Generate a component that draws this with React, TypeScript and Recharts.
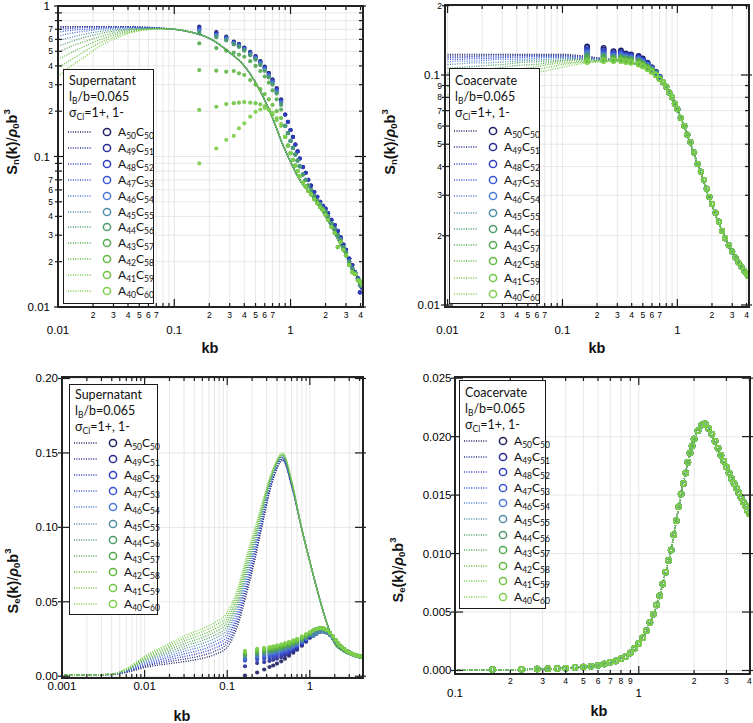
import React from "react";
import { ComposedChart, Line, Scatter, XAxis, YAxis, CartesianGrid } from "recharts";

// series: A50C50 ... A40C60
const seriesA = ["50", "49", "48", "47", "46", "45", "44", "43", "42", "41", "40"];
const seriesC = ["50", "51", "52", "53", "54", "55", "56", "57", "58", "59", "60"];
const seriesColors = [
  "#1d2060", "#262c92", "#2f3fbf", "#3856d2", "#4a79d6", "#4f8ca6",
  "#4b9a68", "#52a84c", "#62b843", "#6fc443", "#7dcf4b",
];

// ---- tick values ----
const ticksLog01to4 = [0.01, 0.02, 0.03, 0.04, 0.05, 0.06, 0.07, 0.08, 0.09, 0.1, 0.2, 0.3, 0.4, 0.5, 0.6, 0.7, 0.8, 0.9, 1, 2, 3, 4];
const ticksLog001to1 = [0.01, 0.02, 0.03, 0.04, 0.05, 0.06, 0.07, 0.08, 0.09, 0.1, 0.2, 0.3, 0.4, 0.5, 0.6, 0.7, 0.8, 0.9, 1];
const ticksLog001to02 = [0.01, 0.02, 0.03, 0.04, 0.05, 0.06, 0.07, 0.08, 0.09, 0.1, 0.2];
const ticksLog0001to4 = [0.001, 0.002, 0.003, 0.004, 0.005, 0.006, 0.007, 0.008, 0.009, 0.01, 0.02, 0.03, 0.04, 0.05, 0.06, 0.07, 0.08, 0.09, 0.1, 0.2, 0.3, 0.4, 0.5, 0.6, 0.7, 0.8, 0.9, 1, 2, 3, 4];
const ticksLog01to4b = [0.1, 0.2, 0.3, 0.4, 0.5, 0.6, 0.7, 0.8, 0.9, 1, 2, 3, 4];
const ticksSeSup = [0, 0.05, 0.1, 0.15, 0.2];
const ticksSeCoa = [0, 0.005, 0.01, 0.015, 0.02, 0.025];

// ---- panel 1: S_n supernatant ----
const snSupK = [0.01, 0.013, 0.017, 0.022, 0.03, 0.04, 0.055, 0.075, 0.1, 0.15, 0.2, 0.3, 0.4, 0.5, 0.7, 0.85, 1, 1.2, 1.5, 1.75, 2, 3, 4];
const snSupLow = [
  [0.73, 0.73, 0.73, 0.73, 0.73, 0.73, 0.725, 0.715, 0.7],
  [0.72, 0.725, 0.728, 0.73, 0.73, 0.728, 0.722, 0.713, 0.7],
  [0.7, 0.71, 0.72, 0.725, 0.727, 0.726, 0.72, 0.712, 0.7],
  [0.67, 0.69, 0.7, 0.71, 0.72, 0.722, 0.718, 0.711, 0.7],
  [0.63, 0.66, 0.68, 0.7, 0.71, 0.716, 0.715, 0.71, 0.7],
  [0.59, 0.62, 0.65, 0.675, 0.695, 0.707, 0.712, 0.709, 0.7],
  [0.54, 0.58, 0.62, 0.65, 0.68, 0.698, 0.708, 0.708, 0.7],
  [0.49, 0.54, 0.58, 0.62, 0.66, 0.688, 0.704, 0.707, 0.7],
  [0.44, 0.49, 0.54, 0.59, 0.64, 0.676, 0.7, 0.706, 0.7],
  [0.39, 0.44, 0.5, 0.56, 0.62, 0.665, 0.695, 0.705, 0.7],
  [0.34, 0.4, 0.46, 0.53, 0.6, 0.655, 0.69, 0.704, 0.7],
];
const snSupTail = [0.66, 0.61, 0.49, 0.4, 0.31, 0.18, 0.122, 0.092, 0.07, 0.056, 0.047, 0.04, 0.022, 0.0145];

const snSupSimKLow = [0.164, 0.23, 0.28, 0.325, 0.36, 0.4, 0.45, 0.5, 0.55, 0.6, 0.65, 0.7, 0.76, 0.83];
const snSupSimLow = [
  [0.73, 0.67, 0.625, 0.58, 0.56, 0.53, 0.495, 0.465, 0.43, 0.395, 0.36, 0.325, 0.285, 0.24],
  [0.72, 0.665, 0.62, 0.578, 0.557, 0.527, 0.492, 0.462, 0.428, 0.392, 0.357, 0.322, 0.282, 0.238],
  [0.71, 0.655, 0.615, 0.572, 0.553, 0.522, 0.488, 0.458, 0.424, 0.388, 0.353, 0.318, 0.278, 0.235],
  [0.7, 0.645, 0.61, 0.568, 0.548, 0.518, 0.484, 0.453, 0.42, 0.384, 0.349, 0.314, 0.274, 0.232],
  [0.69, 0.64, 0.605, 0.565, 0.545, 0.515, 0.48, 0.45, 0.416, 0.38, 0.345, 0.31, 0.27, 0.228],
  [0.675, 0.63, 0.6, 0.56, 0.54, 0.51, 0.475, 0.445, 0.41, 0.375, 0.34, 0.305, 0.265, 0.224],
  [0.66, 0.62, 0.59, 0.555, 0.535, 0.505, 0.47, 0.44, 0.405, 0.37, 0.335, 0.3, 0.262, 0.22],
  [0.565, 0.525, 0.505, 0.49, 0.475, 0.46, 0.43, 0.4, 0.37, 0.34, 0.31, 0.275, 0.24, 0.205],
  [0.375, 0.372, 0.366, 0.37, 0.357, 0.348, 0.322, 0.3, 0.28, 0.26, 0.24, 0.22, 0.2, 0.18],
  [0.204, 0.214, 0.223, 0.226, 0.228, 0.23, 0.228, 0.226, 0.222, 0.215, 0.205, 0.19, 0.175, 0.16],
  [0.09, 0.113, 0.129, 0.137, 0.154, 0.166, 0.184, 0.198, 0.205, 0.21, 0.205, 0.195, 0.18, 0.165],
];
const snSupSimKTail = [0.9, 0.95, 1.0, 1.05, 1.1, 1.15, 1.2, 1.28, 1.35, 1.42, 1.5, 1.6, 1.7, 1.8, 1.9, 2.0, 2.1, 2.25, 2.4, 2.55, 2.7, 2.85, 3.0, 3.2, 3.4, 3.6, 3.8, 3.95, 4.1];
const snSupSimTailBlue = [0.19, 0.17, 0.15, 0.135, 0.12, 0.108, 0.097, 0.085, 0.078, 0.07, 0.064, 0.058, 0.054, 0.05, 0.047, 0.045, 0.042, 0.038, 0.035, 0.032, 0.029, 0.026, 0.024, 0.021, 0.019, 0.017, 0.0155, 0.0125, 0.0135];
const snSupSimTailMid = [0.16, 0.143, 0.127, 0.114, 0.103, 0.094, 0.086, 0.076, 0.07, 0.064, 0.06, 0.055, 0.051, 0.048, 0.045, 0.043, 0.04, 0.036, 0.033, 0.03, 0.028, 0.025, 0.023, 0.02, 0.018, 0.0168, 0.0152, 0.014, 0.0138];
const snSupSimTailGreen = [0.135, 0.118, 0.105, 0.095, 0.087, 0.08, 0.074, 0.067, 0.063, 0.059, 0.056, 0.052, 0.049, 0.046, 0.044, 0.041, 0.038, 0.034, 0.031, 0.025, 0.027, 0.024, 0.022, 0.019, 0.017, 0.0165, 0.015, 0.0148, 0.0142];
const snSupTailGroup = [0, 0, 0, 1, 1, 1, 1, 2, 2, 2, 2];

// ---- panel 2: S_n coacervate ----
const snCoaK = [0.01, 0.013, 0.017, 0.022, 0.03, 0.04, 0.055, 0.075, 0.1, 0.13, 0.17, 0.22, 0.3, 0.4, 0.5, 0.6, 0.7, 0.85, 1, 1.25, 1.5, 2, 2.5, 3, 4];
const snCoaLow = [
  [0.123, 0.123, 0.123, 0.123, 0.123, 0.123, 0.123, 0.123, 0.123, 0.122, 0.12, 0.118, 0.116],
  [0.121, 0.121, 0.121, 0.122, 0.122, 0.122, 0.122, 0.122, 0.122, 0.121, 0.12, 0.118, 0.116],
  [0.119, 0.119, 0.12, 0.12, 0.12, 0.121, 0.121, 0.121, 0.121, 0.12, 0.119, 0.117, 0.116],
  [0.117, 0.117, 0.118, 0.118, 0.119, 0.119, 0.12, 0.12, 0.12, 0.119, 0.118, 0.117, 0.116],
  [0.114, 0.115, 0.115, 0.116, 0.117, 0.117, 0.118, 0.119, 0.119, 0.118, 0.118, 0.117, 0.116],
  [0.111, 0.112, 0.113, 0.113, 0.114, 0.115, 0.116, 0.117, 0.118, 0.118, 0.117, 0.116, 0.116],
  [0.107, 0.108, 0.109, 0.11, 0.111, 0.113, 0.114, 0.115, 0.116, 0.117, 0.117, 0.116, 0.116],
  [0.102, 0.103, 0.105, 0.106, 0.108, 0.11, 0.111, 0.113, 0.115, 0.116, 0.116, 0.116, 0.116],
  [0.096, 0.098, 0.1, 0.102, 0.104, 0.106, 0.108, 0.111, 0.113, 0.114, 0.115, 0.115, 0.115],
  [0.089, 0.091, 0.094, 0.097, 0.1, 0.102, 0.105, 0.108, 0.111, 0.113, 0.114, 0.115, 0.115],
  [0.082, 0.085, 0.088, 0.091, 0.094, 0.098, 0.101, 0.105, 0.108, 0.111, 0.113, 0.114, 0.115],
];
const snCoaTail = [0.113, 0.109, 0.104, 0.097, 0.084, 0.071, 0.053, 0.041, 0.027, 0.0205, 0.017, 0.0137];

const snCoaSimKLow = [0.164, 0.228, 0.278, 0.323, 0.357, 0.395, 0.46, 0.5, 0.55, 0.6, 0.65, 0.7];
const snCoaSimLow = [
  [0.133, 0.131, 0.127, 0.128, 0.124, 0.123, 0.121, 0.118, 0.113, 0.108, 0.103, 0.098],
  [0.131, 0.129, 0.126, 0.126, 0.123, 0.122, 0.12, 0.117, 0.112, 0.108, 0.103, 0.098],
  [0.129, 0.127, 0.124, 0.125, 0.122, 0.121, 0.119, 0.116, 0.112, 0.107, 0.102, 0.098],
  [0.127, 0.125, 0.123, 0.123, 0.121, 0.12, 0.118, 0.115, 0.111, 0.107, 0.102, 0.097],
  [0.125, 0.123, 0.121, 0.122, 0.12, 0.119, 0.117, 0.114, 0.11, 0.106, 0.102, 0.097],
  [0.123, 0.122, 0.12, 0.12, 0.119, 0.118, 0.116, 0.113, 0.109, 0.106, 0.101, 0.097],
  [0.121, 0.12, 0.119, 0.119, 0.118, 0.117, 0.115, 0.112, 0.109, 0.105, 0.101, 0.097],
  [0.119, 0.119, 0.118, 0.118, 0.117, 0.116, 0.114, 0.111, 0.108, 0.105, 0.101, 0.096],
  [0.117, 0.117, 0.117, 0.117, 0.116, 0.115, 0.113, 0.111, 0.107, 0.104, 0.1, 0.096],
  [0.116, 0.116, 0.116, 0.116, 0.115, 0.114, 0.112, 0.11, 0.107, 0.104, 0.1, 0.096],
  [0.114, 0.115, 0.115, 0.115, 0.114, 0.113, 0.111, 0.109, 0.106, 0.103, 0.1, 0.096],
];
const snCoaSimKTail = [0.75, 0.8, 0.85, 0.9, 0.95, 1.0, 1.07, 1.15, 1.22, 1.3, 1.4, 1.5, 1.6, 1.7, 1.8, 1.9, 2.0, 2.15, 2.3, 2.45, 2.6, 2.8, 3.0, 3.2, 3.4, 3.6, 3.8, 4.0, 4.1];
const snCoaSimTail = [0.093, 0.089, 0.084, 0.08, 0.075, 0.071, 0.065, 0.06, 0.055, 0.051, 0.046, 0.041, 0.038, 0.035, 0.032, 0.0295, 0.0275, 0.0252, 0.023, 0.021, 0.0195, 0.0182, 0.0171, 0.0161, 0.0153, 0.0147, 0.0141, 0.0137, 0.0134];

// ---- panel 3: S_e supernatant ----
const seSupK = [0.001, 0.002, 0.004, 0.006, 0.01, 0.02, 0.03, 0.05, 0.07, 0.1, 0.13, 0.18, 0.22, 0.26, 0.35, 0.47, 0.6, 0.79, 1.0, 1.2, 1.6, 2, 2.5, 3, 4];
const seSupLow = [
  [0.0008, 0.0008, 0.0012, 0.0025, 0.0058, 0.0085, 0.0098, 0.012, 0.0145, 0.0195, 0.032, 0.06, 0.08, 0.099, 0.13, 0.145, 0.128],
  [0.0008, 0.0008, 0.0012, 0.0028, 0.0066, 0.0099, 0.0115, 0.014, 0.0167, 0.022, 0.0345, 0.0625, 0.082, 0.1005, 0.131, 0.1455, 0.1284],
  [0.0008, 0.0008, 0.0013, 0.003, 0.0073, 0.0112, 0.0132, 0.016, 0.0188, 0.0242, 0.037, 0.065, 0.0842, 0.1022, 0.1316, 0.146, 0.1288],
  [0.0008, 0.0008, 0.0013, 0.0033, 0.0081, 0.0126, 0.015, 0.018, 0.021, 0.0266, 0.0395, 0.0675, 0.0863, 0.1038, 0.1324, 0.1465, 0.1292],
  [0.0008, 0.0008, 0.0013, 0.0035, 0.0089, 0.0139, 0.0167, 0.02, 0.0231, 0.0289, 0.042, 0.07, 0.0884, 0.1054, 0.1332, 0.147, 0.1296],
  [0.0008, 0.0008, 0.0014, 0.0038, 0.0097, 0.0153, 0.0184, 0.022, 0.0253, 0.0313, 0.0445, 0.0725, 0.0905, 0.107, 0.134, 0.1475, 0.13],
  [0.0008, 0.0008, 0.0014, 0.004, 0.0104, 0.0166, 0.0201, 0.024, 0.0274, 0.0336, 0.047, 0.075, 0.0926, 0.1086, 0.1348, 0.148, 0.1304],
  [0.0008, 0.0008, 0.0014, 0.0043, 0.0112, 0.018, 0.0218, 0.026, 0.0296, 0.036, 0.0495, 0.0775, 0.0947, 0.1102, 0.1356, 0.1485, 0.1308],
  [0.0008, 0.0008, 0.0014, 0.0045, 0.012, 0.0193, 0.0236, 0.028, 0.0317, 0.0383, 0.052, 0.08, 0.0968, 0.1118, 0.1364, 0.149, 0.1312],
  [0.0008, 0.0008, 0.0015, 0.0048, 0.0127, 0.0207, 0.0253, 0.03, 0.0339, 0.0407, 0.0545, 0.0825, 0.0989, 0.1134, 0.1372, 0.1495, 0.1316],
  [0.0008, 0.0008, 0.0015, 0.005, 0.0135, 0.022, 0.027, 0.032, 0.036, 0.043, 0.057, 0.085, 0.101, 0.115, 0.138, 0.15, 0.132],
];
const seSupTail = [0.1, 0.077, 0.06, 0.036, 0.022, 0.017, 0.0148, 0.0128];

const seSupSimKLow = [0.164, 0.23, 0.28, 0.325, 0.36, 0.4, 0.45, 0.5, 0.56, 0.63, 0.7, 0.8, 0.9, 1.0];
const seSupSimLow = [
  [0.0004, 0.0025, 0.0045, 0.0062, 0.0072, 0.0085, 0.01, 0.0118, 0.0138, 0.0158, 0.0178, 0.0205, 0.0232, 0.0258],
  [0.0067, 0.0088, 0.0095, 0.0103, 0.011, 0.0118, 0.0128, 0.014, 0.0154, 0.0168, 0.0184, 0.021, 0.0236, 0.0262],
  [0.0105, 0.0112, 0.0118, 0.0124, 0.013, 0.0136, 0.0145, 0.0155, 0.0166, 0.018, 0.0195, 0.0218, 0.0242, 0.0266],
  [0.0112, 0.0125, 0.0133, 0.014, 0.0146, 0.0152, 0.016, 0.017, 0.018, 0.0192, 0.0205, 0.0226, 0.0248, 0.027],
  [0.012, 0.0134, 0.0142, 0.015, 0.0156, 0.0162, 0.017, 0.018, 0.019, 0.0201, 0.0213, 0.0233, 0.0253, 0.0274],
  [0.013, 0.0143, 0.0151, 0.0158, 0.0164, 0.017, 0.0178, 0.0187, 0.0197, 0.0208, 0.022, 0.0239, 0.0258, 0.0277],
  [0.014, 0.0152, 0.016, 0.0167, 0.0172, 0.0178, 0.0186, 0.0195, 0.0204, 0.0215, 0.0227, 0.0245, 0.0263, 0.0281],
  [0.0148, 0.016, 0.0168, 0.0175, 0.018, 0.0186, 0.0193, 0.0202, 0.0211, 0.0222, 0.0233, 0.0251, 0.0268, 0.0285],
  [0.0156, 0.0168, 0.0176, 0.0182, 0.0187, 0.0193, 0.02, 0.0208, 0.0217, 0.0228, 0.0239, 0.0256, 0.0273, 0.0289],
  [0.0163, 0.0176, 0.0183, 0.0189, 0.0194, 0.02, 0.0207, 0.0215, 0.0224, 0.0234, 0.0245, 0.0262, 0.0278, 0.0293],
  [0.017, 0.0183, 0.019, 0.0196, 0.0201, 0.0207, 0.0214, 0.0222, 0.0231, 0.0241, 0.0251, 0.0267, 0.0283, 0.0297],
];
const seSupSimKTail = [1.1, 1.2, 1.3, 1.4, 1.5, 1.6, 1.75, 1.9, 2.05, 2.2, 2.4, 2.6, 2.8, 3.0, 3.25, 3.5, 3.75, 4.0, 4.2];
const seSupSimTailBlue = [0.0272, 0.0287, 0.0298, 0.0302, 0.0301, 0.0295, 0.028, 0.0258, 0.0236, 0.0216, 0.0196, 0.018, 0.0168, 0.0158, 0.0149, 0.0142, 0.0137, 0.0133, 0.013];
const seSupSimTailGreen = [0.0307, 0.0316, 0.0322, 0.0323, 0.0318, 0.0309, 0.0291, 0.0266, 0.0242, 0.022, 0.0199, 0.0182, 0.0169, 0.0159, 0.015, 0.0143, 0.0138, 0.0134, 0.0131];

// ---- panel 4: S_e coacervate (all compositions overlap) ----
const seCoaK = [0.1, 0.2, 0.3, 0.4, 0.5, 0.6, 0.7, 0.8, 0.9, 1, 1.1, 1.2, 1.3, 1.4, 1.5, 1.6, 1.7, 1.8, 1.9, 2, 2.1, 2.2, 2.3, 2.4, 2.6, 2.8, 3, 3.3, 3.6, 4];
const seCoaLine = [0.00002, 0.00006, 0.00012, 0.0002, 0.0003, 0.00045, 0.0007, 0.001, 0.0015, 0.0023, 0.0034, 0.0048, 0.0064, 0.0084, 0.0103, 0.0128, 0.0151, 0.0169, 0.0186, 0.0198, 0.0205, 0.021, 0.0211, 0.0207, 0.0196, 0.0184, 0.0174, 0.016, 0.0148, 0.0132];
const seCoaSimK = [0.16, 0.23, 0.28, 0.32, 0.36, 0.4, 0.45, 0.5, 0.55, 0.6, 0.65, 0.7, 0.75, 0.8, 0.85, 0.9, 0.95, 1.0, 1.05, 1.1, 1.15, 1.2, 1.25, 1.3, 1.35, 1.4, 1.45, 1.5, 1.55, 1.6, 1.65, 1.7, 1.75, 1.8, 1.85, 1.9, 1.95, 2.0, 2.1, 2.2, 2.3, 2.4, 2.5, 2.6, 2.7, 2.8, 2.9, 3.0, 3.1, 3.2, 3.3, 3.4, 3.5, 3.6, 3.7, 3.8, 3.9, 4.0];
const seCoaSim = [0.00008, 0.0001, 0.00012, 0.00015, 0.00018, 0.0002, 0.00025, 0.0003, 0.00037, 0.00045, 0.00055, 0.0007, 0.00082, 0.001, 0.0012, 0.0015, 0.0019, 0.0023, 0.0028, 0.0034, 0.0041, 0.0048, 0.0056, 0.0064, 0.0074, 0.0084, 0.0094, 0.0103, 0.0116, 0.0128, 0.014, 0.0151, 0.016, 0.0169, 0.0178, 0.0186, 0.0192, 0.0198, 0.0205, 0.021, 0.0211, 0.0207, 0.0202, 0.0196, 0.019, 0.0184, 0.0179, 0.0174, 0.0169, 0.0164, 0.016, 0.0156, 0.0152, 0.0148, 0.0144, 0.0141, 0.0137, 0.0134];

const pts = (ks: number[], vs: number[]) => ks.map((k, i) => ({ k, v: vs[i] }));

const logLabel = (labeled: number[]) => (v: number) => {
  const e = Math.floor(Math.log10(v) + 1e-9);
  const m = Math.round(v / Math.pow(10, e));
  if (m === 1) return { t: String(v), major: true };
  return { t: labeled.includes(m) ? String(m) : "", major: false };
};
const fixedLabel = (d: number) => (v: number) => ({ t: v.toFixed(d), major: true });

const FONT = '"Liberation Sans", Arial, sans-serif';

type Cfg = {
  left: number; top: number; w: number; h: number;
  plot: { l: number; t: number; r: number; b: number };
  xDomain: number[]; yDomain: number[]; yLog: boolean;
  xTicks: number[]; yTicks: number[];
  xLabel: (v: number) => { t: string; major: boolean };
  yLabel: (v: number) => { t: string; major: boolean };
  xMajorDy: number; xMinorDy: number; yMajorDx: number; yMinorDx: number;
  lines: { k: number; v: number }[][];
  points: { k: number; v: number }[][];
  dotR: number; hollow: boolean;
  sub: string; yTitle: { x: number; y: number }; xTitle: { x: number; y: number };
  legend: { x: number; y: number; w: number; h: number; title: string; t0: number; r0: number; gap: number };
};

function LegendBox({ cfg }: { cfg: Cfg["legend"] }) {
  const subStyle: React.CSSProperties = { fontSize: 8.5, position: "relative", top: 3, verticalAlign: "baseline" };
  return (
    <div
      style={{
        position: "absolute", left: cfg.x, top: cfg.y, width: cfg.w, height: cfg.h,
        border: "1.5px solid #1a1a1a", background: "#fff", boxSizing: "border-box",
        fontFamily: 'Lato, "Open Sans", sans-serif', fontSize: 12.5, color: "#111",
      }}
    >
      {[
        <span key="a">{cfg.title}</span>,
        <span key="b">l<span style={subStyle}>B</span>/b=0.065</span>,
        <span key="c">σ<span style={subStyle}>Cl</span>=1+, 1-</span>,
      ].map((el, i) => (
        <div key={i} style={{ position: "absolute", left: 5, top: cfg.t0 + i * 16 - 8, lineHeight: "16px", whiteSpace: "nowrap" }}>{el}</div>
      ))}
      {seriesColors.map((c, i) => (
        <div key={i} style={{ position: "absolute", left: 0, top: cfg.r0 + i * cfg.gap - 8, height: 16, width: "100%" }}>
          <svg width={50} height={16} style={{ position: "absolute", left: 0, top: 0 }}>
            <line x1={4} x2={27} y1={8} y2={8} stroke={c} strokeWidth={1.3} strokeDasharray="1 1.4" />
            <circle cx={43} cy={8} r={3.6} fill="none" stroke={c} strokeWidth={1.5} />
          </svg>
          <span style={{ position: "absolute", left: 54, top: 0, lineHeight: "16px", whiteSpace: "nowrap", fontSize: 12 }}>
            A<span style={subStyle}>{seriesA[i]}</span>C<span style={subStyle}>{seriesC[i]}</span>
          </span>
        </div>
      ))}
    </div>
  );
}

function Panel({ cfg }: { cfg: Cfg }) {
  const { w, h, plot } = cfg;
  const PW = plot.r - plot.l;
  const PH = plot.b - plot.t;
  const ink = "#1a1a1a";

  const xTick = (p: any) => {
    const { x, y, payload } = p;
    const { t, major } = cfg.xLabel(payload.value);
    const len = major ? 8 : 4;
    return (
      <g>
        <line x1={x} x2={x} y1={y} y2={y - len} stroke={ink} strokeWidth={1.2} />
        <line x1={x} x2={x} y1={y - PH} y2={y - PH + len} stroke={ink} strokeWidth={1.2} />
        {t ? (
          <text x={x} y={y + (major ? cfg.xMajorDy : cfg.xMinorDy)} textAnchor="middle" fontFamily={FONT} fontSize={major ? 11.5 : 8.5} fill="#000">
            {t}
          </text>
        ) : null}
      </g>
    );
  };

  const yTick = (p: any) => {
    const { x, y, payload } = p;
    const { t, major } = cfg.yLabel(payload.value);
    const len = major ? 8 : 4;
    return (
      <g>
        <line x1={x - (major ? 4 : 3)} x2={x + len} y1={y} y2={y} stroke={ink} strokeWidth={1.2} />
        <line x1={x + PW - len} x2={x + PW + (major ? 3 : 0)} y1={y} y2={y} stroke={ink} strokeWidth={1.2} />
        {t ? (
          <text x={x - (major ? cfg.yMajorDx : cfg.yMinorDx)} y={y} textAnchor="end" dominantBaseline="central" fontFamily={FONT} fontSize={major ? 11.5 : 8.5} fill="#000">
            {t}
          </text>
        ) : null}
      </g>
    );
  };

  const yTitle = () => (
    <text
      transform={`translate(${cfg.yTitle.x},${cfg.yTitle.y}) rotate(-90)`}
      textAnchor="middle" dominantBaseline="central" fontFamily={FONT} fontWeight="bold" fontSize={14.5} fill="#111"
    >
      S<tspan fontSize={9.5} dy={3}>{cfg.sub}</tspan>
      <tspan dy={-3}>(k)</tspan>
      <tspan fontWeight="normal">/</tspan>
      <tspan fontStyle="italic">ρ</tspan>
      <tspan fontSize={9.5} dy={3}>0</tspan>
      <tspan dy={-3}>b</tspan>
      <tspan fontSize={9.5} dy={-6}>3</tspan>
    </text>
  );

  const xTitle = () => (
    <text x={cfg.xTitle.x} y={cfg.xTitle.y} textAnchor="middle" dominantBaseline="central" fontFamily={FONT} fontWeight="bold" fontSize={14.5} fill="#111">
      kb
    </text>
  );

  return (
    <div style={{ position: "absolute", left: cfg.left, top: cfg.top, width: w, height: h }}>
      <ComposedChart width={w} height={h} margin={{ top: plot.t, right: w - plot.r, bottom: 0, left: 0 }}>
        <CartesianGrid stroke="#e2e2e2" strokeWidth={0.8} />
        <XAxis
          dataKey="k" type="number" scale="log" domain={cfg.xDomain} allowDataOverflow
          ticks={cfg.xTicks} interval={0} height={h - plot.b} tickSize={0} tickMargin={0}
          axisLine={false} tickLine={false} tick={xTick} label={{ content: xTitle }}
        />
        <YAxis
          dataKey="v" type="number" scale={cfg.yLog ? "log" : "linear"} domain={cfg.yDomain} allowDataOverflow
          ticks={cfg.yTicks} interval={0} width={plot.l} tickSize={0} tickMargin={0}
          axisLine={false} tickLine={false} tick={yTick} label={{ content: yTitle }}
        />
        {cfg.lines.map((d, i) => (
          <Line
            key={"l" + i} data={d} dataKey="v" type="monotone" stroke={seriesColors[i]} strokeWidth={1.3}
            strokeDasharray="1 1.4" dot={false} activeDot={false} isAnimationActive={false}
          />
        ))}
        {cfg.points.map((d, i) => (
          <Scatter
            key={"s" + i} data={d} dataKey="v" fill={seriesColors[i]} isAnimationActive={false}
            shape={(p: any) =>
              cfg.hollow ? (
                <circle cx={p.cx} cy={p.cy} r={cfg.dotR} fill="none" stroke={seriesColors[i]} strokeWidth={1.5} />
              ) : (
                <circle cx={p.cx} cy={p.cy} r={cfg.dotR} fill={seriesColors[i]} fillOpacity={0.9} />
              )
            }
          />
        ))}
      </ComposedChart>
      <div
        style={{
          position: "absolute", left: plot.l - 1, top: plot.t - 1, width: PW + 2, height: PH + 2,
          border: "2px solid #222", boxSizing: "border-box", pointerEvents: "none",
        }}
      />
      <LegendBox cfg={cfg.legend} />
    </div>
  );
}

const panels: Cfg[] = [
  {
    left: 0, top: 0, w: 377, h: 361, plot: { l: 58, t: 6, r: 363, b: 307 },
    xDomain: [0.01, 4.2], yDomain: [0.01, 1], yLog: true,
    xTicks: ticksLog01to4, yTicks: ticksLog001to1,
    xLabel: logLabel([2, 3, 4, 5, 6, 7]), yLabel: logLabel([2, 3, 4, 5, 6, 7]),
    xMajorDy: 27, xMinorDy: 11, yMajorDx: 8, yMinorDx: 5,
    lines: snSupLow.map((low) => pts(snSupK, [...low, ...snSupTail])),
    points: snSupSimLow.map((low, i) =>
      pts([...snSupSimKLow, ...snSupSimKTail], [...low, ...[snSupSimTailBlue, snSupSimTailMid, snSupSimTailGreen][snSupTailGroup[i]]])
    ),
    dotR: 2.1, hollow: false, sub: "n", yTitle: { x: 12, y: 142 }, xTitle: { x: 210, y: 348 },
    legend: { x: 63, y: 69, w: 91, h: 235, title: "Supernatant", t0: 11, r0: 62, gap: 15.9 },
  },
  {
    left: 377, top: 0, w: 376, h: 361, plot: { l: 68, t: 5, r: 372, b: 307 },
    xDomain: [0.0095, 4.2], yDomain: [0.0098, 0.2016], yLog: true,
    xTicks: ticksLog01to4, yTicks: ticksLog001to02,
    xLabel: logLabel([2, 3, 4, 5, 6, 7]), yLabel: logLabel([2, 3, 4, 5, 6, 7, 8, 9]),
    xMajorDy: 27, xMinorDy: 11, yMajorDx: 5, yMinorDx: 3,
    lines: snCoaLow.map((low) => pts(snCoaK, [...low, ...snCoaTail])),
    points: snCoaSimLow.map((low) => pts([...snCoaSimKLow, ...snCoaSimKTail], [...low, ...snCoaSimTail])),
    dotR: 2.2, hollow: true, sub: "n", yTitle: { x: 13, y: 142 }, xTitle: { x: 220, y: 348 },
    legend: { x: 72, y: 68, w: 91, h: 236, title: "Coacervate", t0: 12, r0: 62, gap: 16.3 },
  },
  {
    left: 0, top: 361, w: 377, h: 362, plot: { l: 62, t: 16, r: 363, b: 317 },
    xDomain: [0.001, 4.4], yDomain: [-0.0012, 0.201], yLog: false,
    xTicks: ticksLog0001to4, yTicks: ticksSeSup,
    xLabel: logLabel([]), yLabel: fixedLabel(2),
    xMajorDy: 12, xMinorDy: 12, yMajorDx: 4, yMinorDx: 4,
    lines: seSupLow.map((low) => pts(seSupK, [...low, ...seSupTail])),
    points: seSupSimLow.map((low, i) =>
      pts([...seSupSimKLow, ...seSupSimKTail], [...low, ...(i < 6 ? seSupSimTailBlue : seSupSimTailGreen)])
    ),
    dotR: 2.1, hollow: false, sub: "e", yTitle: { x: 13, y: 220 }, xTitle: { x: 182, y: 355 },
    legend: { x: 69, y: 23, w: 89, h: 231, title: "Supernatant", t0: 10, r0: 58, gap: 16.1 },
  },
  {
    left: 377, top: 361, w: 376, h: 362, plot: { l: 78, t: 16, r: 373, b: 313 },
    xDomain: [0.1, 4.03], yDomain: [-0.0003, 0.0251], yLog: false,
    xTicks: ticksLog01to4b, yTicks: ticksSeCoa,
    xLabel: logLabel([2, 3, 4, 5, 6, 7, 8, 9]), yLabel: fixedLabel(3),
    xMajorDy: 23, xMinorDy: 10, yMajorDx: 3.5, yMinorDx: 3.5,
    lines: seriesColors.map(() => pts(seCoaK, seCoaLine)),
    points: seriesColors.map(() => pts(seCoaSimK, seCoaSim)),
    dotR: 2.5, hollow: true, sub: "e", yTitle: { x: 21, y: 209 }, xTitle: { x: 222, y: 350 },
    legend: { x: 82, y: 19, w: 87, h: 229, title: "Coacervate", t0: 12, r0: 60, gap: 15.6 },
  },
];

export default function App() {
  return (
    <div style={{ position: "absolute", left: 0, top: 0, width: 753, height: 723, background: "#fff", overflow: "hidden" }}>
      {panels.map((p, i) => (
        <Panel key={i} cfg={p} />
      ))}
    </div>
  );
}
